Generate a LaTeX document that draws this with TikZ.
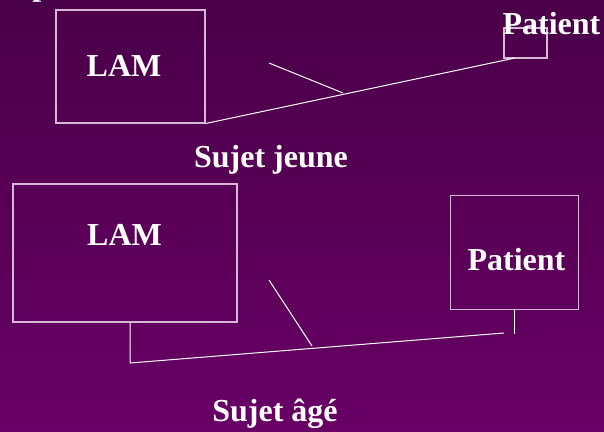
\documentclass[tikz,border=0pt]{standalone}
\usepackage{fontspec}
\setmainfont{Liberation Serif}
\usetikzlibrary{calc}
\definecolor{bgtop}{RGB}{74,0,72}
\definecolor{bgbot}{RGB}{104,0,102}
\definecolor{boxline}{RGB}{215,185,215}
\begin{document}
\begin{tikzpicture}[x=0.75pt,y=-0.75pt,
  frame/.style={draw=boxline,line width=0.8pt,rectangle,inner sep=0pt},
  label/.style={text=white,font=\fontsize{24}{28}\selectfont\bfseries,inner sep=0pt,anchor=base},
  link/.style={draw=white,line width=0.75pt}]
  % background
  \shade[top color=bgtop,bottom color=bgbot] (0,0) rectangle (604,432);
  \useasboundingbox (0,0) rectangle (604,432);

  % descender of a heading cut off at the top edge
  \node[label,anchor=base west] (head) at (32,-4) {p};

  % young subject
  \node[frame,minimum width=111.75pt,minimum height=84.75pt] (lamA) at (130.5,66.5) {};
  \node[label] (lamAtxt) at (124,76) {LAM};
  \node[frame,minimum width=32.25pt,minimum height=22.5pt] (patA) at (525.5,43) {};
  \node[label] (patAtxt) at (551.5,34) {Patient};
  \coordinate (patAend) at (515,58);
  \coordinate (jA) at (343,93);
  \coordinate (tA) at (269,63);
  \draw[link] (lamA.south east) -- (patAend);
  \draw[link] (tA) -- (jA);
  \node[label] (young) at (271,167) {Sujet jeune};

  % elderly subject
  \node[frame,minimum width=168pt,minimum height=103.5pt] (lamB) at (125,253) {};
  \node[label] (lamBtxt) at (124.5,245) {LAM};
  \node[frame,minimum width=96pt,minimum height=85.5pt] (patB) at (514.5,252.5) {};
  \node[label] (patBtxt) at (516.5,270) {Patient};
  \coordinate (bA) at (130,363);
  \coordinate (bB) at (504,333);
  \coordinate (pB) at (514.5,334);
  \coordinate (tB) at (269,280);
  \coordinate (jB) at (312,346);
  \draw[link] (lamB.south -| bA) -- (bA) -- (bB);
  \draw[link] (patB.south) -- (pB);
  \draw[link] (tB) -- (jB);
  \node[label] (old) at (275,421) {Sujet âgé};
\end{tikzpicture}
\end{document}
